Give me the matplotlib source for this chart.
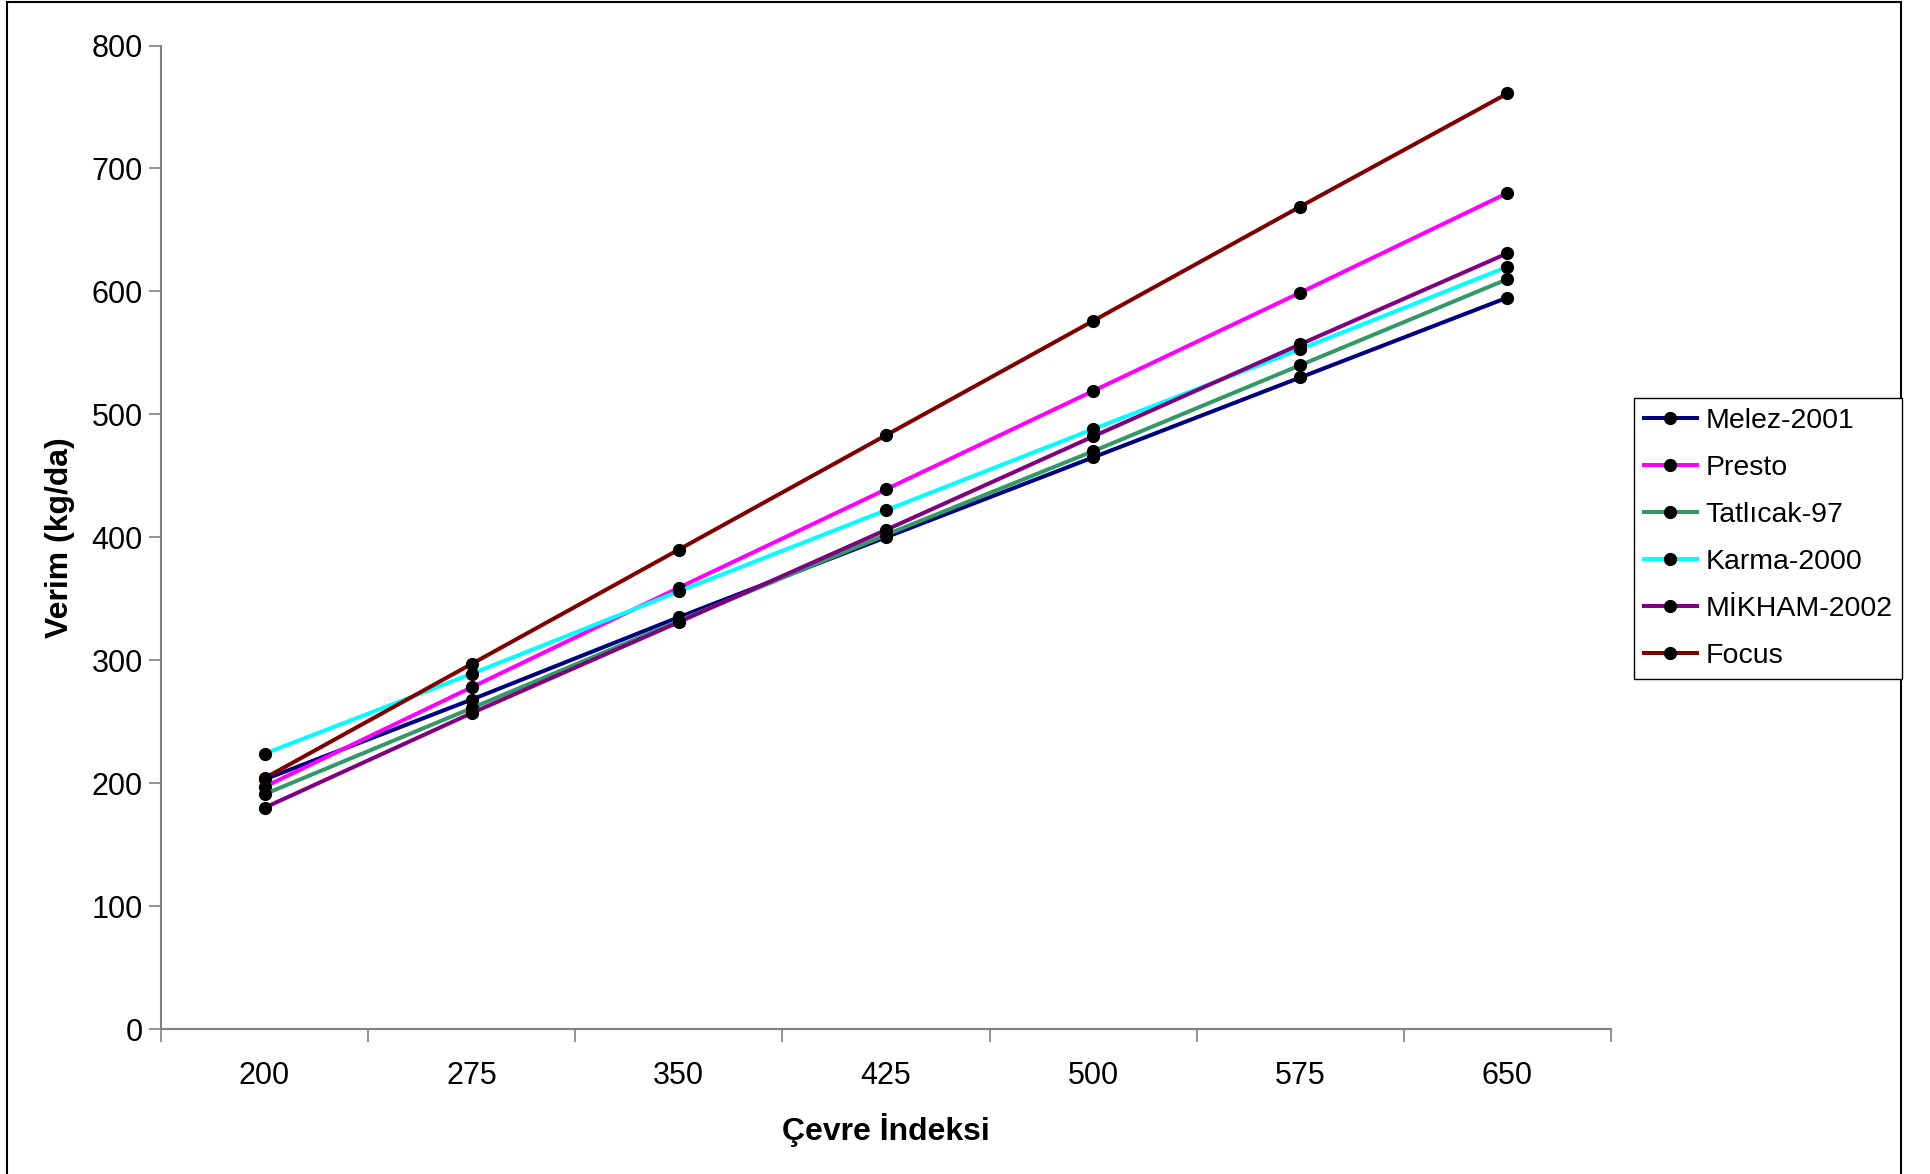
import matplotlib
matplotlib.use("Agg")
import matplotlib.pyplot as plt
from matplotlib.patches import Rectangle

plt.rcParams["font.family"] = ["Liberation Sans", "DejaVu Sans"]

env_index = ["200", "275", "350", "425", "500", "575", "650"]
melez = [203, 268, 335, 400, 465, 530, 595]
presto = [197, 278, 359, 439, 519, 599, 680]
tatlicak = [191, 261, 332, 402, 470, 540, 610]
karma = [224, 289, 356, 422, 488, 553, 620]
mikham = [180, 257, 331, 406, 482, 557, 631]
focus = [204, 297, 390, 483, 576, 669, 761]

series = [
    ("Melez-2001", melez, "#000080"),
    ("Presto", presto, "#FF00FF"),
    ("Tatlıcak-97", tatlicak, "#339966"),
    ("Karma-2000", karma, "#00FFFF"),
    ("MİKHAM-2002", mikham, "#800080"),
    ("Focus", focus, "#800000"),
]

fig = plt.figure(figsize=(19.3, 11.74), dpi=100)
ax = fig.add_axes([0.0834, 0.1235, 0.7513, 0.8377])

x = list(range(len(env_index)))
for name, vals, col in series:
    ax.plot(x, vals, color=col, lw=2.9, marker="o", ms=8.5,
            mfc="black", mec="black", label=name)

ax.set_xlim(-0.5, len(env_index) - 0.5)
ax.set_ylim(0, 800)
ax.set_yticks(range(0, 801, 100))
ax.set_xticks([i - 0.5 for i in range(len(env_index) + 1)])
ax.set_xticklabels([])
ax.set_xticks(x, minor=True)
ax.set_xticklabels(env_index, minor=True)
ax.tick_params(axis="x", which="major", length=9, width=1.2, color="#808080")
ax.tick_params(axis="x", which="minor", length=0, pad=23, labelsize=22)
ax.tick_params(axis="y", length=9, width=1.2, color="#808080", pad=4, labelsize=22)

for s in ["top", "right"]:
    ax.spines[s].set_visible(False)
for s in ["left", "bottom"]:
    ax.spines[s].set_color("#808080")
    ax.spines[s].set_linewidth(1.5)

ax.set_xlabel("Çevre İndeksi", fontsize=23, fontweight="bold", labelpad=16)
ax.set_ylabel("Verim (kg/da)", fontsize=23, fontweight="bold", labelpad=12)

leg = fig.legend(loc="upper left", bbox_to_anchor=(1634 / 1930, 1 - 398 / 1174),
                 fontsize=20.5, frameon=True, fancybox=False, framealpha=1,
                 edgecolor="black", handlelength=1.85, handletextpad=0.3,
                 labelspacing=0.74, borderpad=0.35, borderaxespad=0)
leg.get_frame().set_linewidth(1.0)

# outer chart frame
fig.patches.append(Rectangle((7 / 1930, -0.05), (1901 - 7) / 1930, 1.05 - 2 / 1174,
                             transform=fig.transFigure, fill=False,
                             edgecolor="black", lw=1.5))

fig.savefig("out.png", dpi=100)
